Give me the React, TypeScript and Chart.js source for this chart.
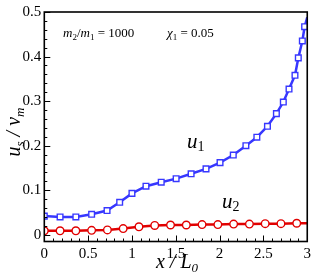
import React, { useEffect, useRef } from "react";
import { Chart, registerables } from "chart.js";

Chart.register(...registerables);

const u1X = [0, 0.18, 0.36, 0.54, 0.716, 0.86, 1.0, 1.16, 1.334, 1.504, 1.675, 1.845, 2.005, 2.156, 2.3, 2.425, 2.546, 2.648, 2.727, 2.792, 2.86, 2.898, 2.944, 2.97, 3.0];
const u1Y = [0.042, 0.04, 0.04, 0.046, 0.0545, 0.073, 0.093, 0.109, 0.118, 0.126, 0.137, 0.148, 0.162, 0.179, 0.2, 0.219, 0.2435, 0.272, 0.298, 0.327, 0.358, 0.397, 0.435, 0.467, 0.488];
const u2X = [0, 0.18, 0.36, 0.54, 0.72, 0.9, 1.08, 1.26, 1.44, 1.62, 1.8, 1.98, 2.16, 2.34, 2.52, 2.7, 2.88, 3.0];
const u2Y = [0.009, 0.009, 0.009, 0.01, 0.011, 0.014, 0.018, 0.021, 0.022, 0.022, 0.023, 0.023, 0.024, 0.024, 0.025, 0.025, 0.026, 0.026];
const xTicks = [0, 0.5, 1, 1.5, 2, 2.5, 3];
const xTickLabels = ["0", "0.5", "1", "1.5", "2", "2.5", "3"];
const xMinor = [0.1, 0.2, 0.3, 0.4, 0.6, 0.7, 0.8, 0.9, 1.1, 1.2, 1.3, 1.4, 1.6, 1.7, 1.8, 1.9, 2.1, 2.2, 2.3, 2.4, 2.6, 2.7, 2.8, 2.9];
const yTicks = [0, 0.1, 0.2, 0.3, 0.4, 0.5];
const yTickLabels = ["0", "0.1", "0.2", "0.3", "0.4", "0.5"];
const yMinor = [0.02, 0.04, 0.06, 0.08, 0.12, 0.14, 0.16, 0.18, 0.22, 0.24, 0.26, 0.28, 0.32, 0.34, 0.36, 0.38, 0.42, 0.44, 0.46, 0.48];

type Part = { t: string; font: string; dy?: number };

function drawRich(ctx: CanvasRenderingContext2D, x: number, y: number, parts: Part[], center = false) {
  let total = 0;
  for (const p of parts) {
    ctx.font = p.font;
    total += ctx.measureText(p.t).width;
  }
  let cx = center ? x - total / 2 : x;
  ctx.textBaseline = "alphabetic";
  ctx.textAlign = "left";
  for (const p of parts) {
    ctx.font = p.font;
    ctx.fillText(p.t, cx, y + (p.dy || 0));
    cx += ctx.measureText(p.t).width;
  }
}

const SERIF = '"Liberation Serif", "DejaVu Serif", serif';

const overlay = {
  id: "overlay",
  afterDraw(chart: any) {
    const ctx: CanvasRenderingContext2D = chart.ctx;
    const { left, right, top, bottom } = chart.chartArea;
    const xs = chart.scales.x;
    const ys = chart.scales.y;
    ctx.save();
    ctx.strokeStyle = "#000";
    ctx.lineWidth = 1;
    ctx.beginPath();
    for (const v of xTicks) {
      const px = Math.round(xs.getPixelForValue(v)) + 0.5;
      ctx.moveTo(px, bottom);
      ctx.lineTo(px, bottom - 6);
    }
    for (const v of xMinor) {
      const px = Math.round(xs.getPixelForValue(v)) + 0.5;
      ctx.moveTo(px, bottom);
      ctx.lineTo(px, bottom - 3);
    }
    for (const v of yTicks) {
      const py = Math.round(ys.getPixelForValue(v)) + 0.5;
      ctx.moveTo(left, py);
      ctx.lineTo(left + 6, py);
    }
    for (const v of yMinor) {
      const py = Math.round(ys.getPixelForValue(v)) + 0.5;
      ctx.moveTo(left, py);
      ctx.lineTo(left + 3, py);
    }
    ctx.stroke();
    ctx.lineWidth = 1.6;
    ctx.strokeRect(left, top, right - left, bottom - top);

    ctx.fillStyle = "#000";
    const it12 = `italic 13px ${SERIF}`;
    const up12 = `13px ${SERIF}`;
    const sub9 = `9px ${SERIF}`;
    drawRich(ctx, 63, 37, [
      { t: "m", font: it12 },
      { t: "2", font: sub9, dy: 2.5 },
      { t: "/", font: up12 },
      { t: "m", font: it12 },
      { t: "1", font: sub9, dy: 2.5 },
      { t: " = 1000", font: up12 },
    ]);
    drawRich(ctx, 167, 37, [
      { t: "\u03c7", font: it12 },
      { t: "1", font: sub9, dy: 2.5 },
      { t: " = 0.05", font: up12 },
    ]);
    const it20 = `italic 21px ${SERIF}`;
    const sub13 = `14px ${SERIF}`;
    drawRich(ctx, 187, 148, [
      { t: "u", font: it20 },
      { t: "1", font: sub13, dy: 3 },
    ]);
    drawRich(ctx, 222, 208, [
      { t: "u", font: it20 },
      { t: "2", font: sub13, dy: 3 },
    ]);
    const itT = `italic 20px ${SERIF}`;
    const itS = `italic 13px ${SERIF}`;
    drawRich(ctx, 156, 268, [
      { t: "x", font: itT },
      { t: " / ", font: itT },
      { t: "L", font: itT },
      { t: "0", font: itS, dy: 4 },
    ]);
    ctx.save();
    ctx.translate(20, 132);
    ctx.rotate(-Math.PI / 2);
    drawRich(ctx, 0, 0, [
      { t: "u", font: itT },
      { t: "s", font: itS, dy: 4 },
      { t: " / ", font: itT },
      { t: "v", font: itT },
      { t: "m", font: itS, dy: 4 },
    ], true);
    ctx.restore();
    ctx.restore();
  },
};

export default function App() {
  const ref = useRef<HTMLCanvasElement | null>(null);
  useEffect(() => {
    document.body.style.margin = "0";
    const canvas = ref.current;
    if (!canvas) return;
    const blue = "rgb(55,55,255)";
    const red = "rgb(225,0,0)";
    const chart = new Chart(canvas, {
      type: "line",
      data: {
        datasets: [
          {
            data: u1X.map((x, i) => ({ x, y: u1Y[i] })),
            borderColor: blue,
            borderWidth: 2.5,
            backgroundColor: "#fff",
            pointStyle: "rect",
            pointRadius: u1X.map((_, i) => (i === u1X.length - 1 ? 0 : 4)),
            pointBorderWidth: 1.4,
            pointBorderColor: blue,
            pointBackgroundColor: "#fff",
            tension: 0,
          },
          {
            data: u2X.map((x, i) => ({ x, y: u2Y[i] })),
            borderColor: red,
            borderWidth: 2.5,
            backgroundColor: "#fff",
            pointStyle: "circle",
            pointRadius: u2X.map((_, i) => (i === u2X.length - 1 ? 0 : 3.8)),
            pointBorderWidth: 1.4,
            pointBorderColor: red,
            pointBackgroundColor: "#fff",
            tension: 0,
          },
        ],
      },
      options: {
        animation: false,
        responsive: false,
        maintainAspectRatio: false,
        layout: { padding: { left: 0, right: 7, top: 9.5, bottom: 0 } },
        plugins: { legend: { display: false }, tooltip: { enabled: false }, title: { display: false } },
        scales: {
          x: {
            type: "linear",
            min: 0,
            max: 3,
            grid: { display: false, drawTicks: false },
            border: { display: false },
            afterBuildTicks: (s: any) => {
              s.ticks = xTicks.map((v) => ({ value: v }));
            },
            afterFit: (s: any) => {
              s.height = 38.5;
            },
            ticks: {
              padding: 4,
              color: "#000",
              maxRotation: 0,
              autoSkip: false,
              font: { family: SERIF, size: 15 },
              callback: (_v: any, i: number) => xTickLabels[i],
            },
          },
          y: {
            type: "linear",
            min: -0.015,
            max: 0.5,
            grid: { display: false, drawTicks: false },
            border: { display: false },
            afterBuildTicks: (s: any) => {
              s.ticks = yTicks.map((v) => ({ value: v }));
            },
            afterFit: (s: any) => {
              s.width = 44.3;
            },
            ticks: {
              padding: 3,
              color: "#000",
              autoSkip: false,
              font: { family: SERIF, size: 15 },
              callback: (_v: any, i: number) => yTickLabels[i],
            },
          },
        },
      },
      plugins: [overlay],
    });
    return () => chart.destroy();
  }, []);
  return <canvas ref={ref} width={315} height={280} style={{ display: "block" }} />;
}
